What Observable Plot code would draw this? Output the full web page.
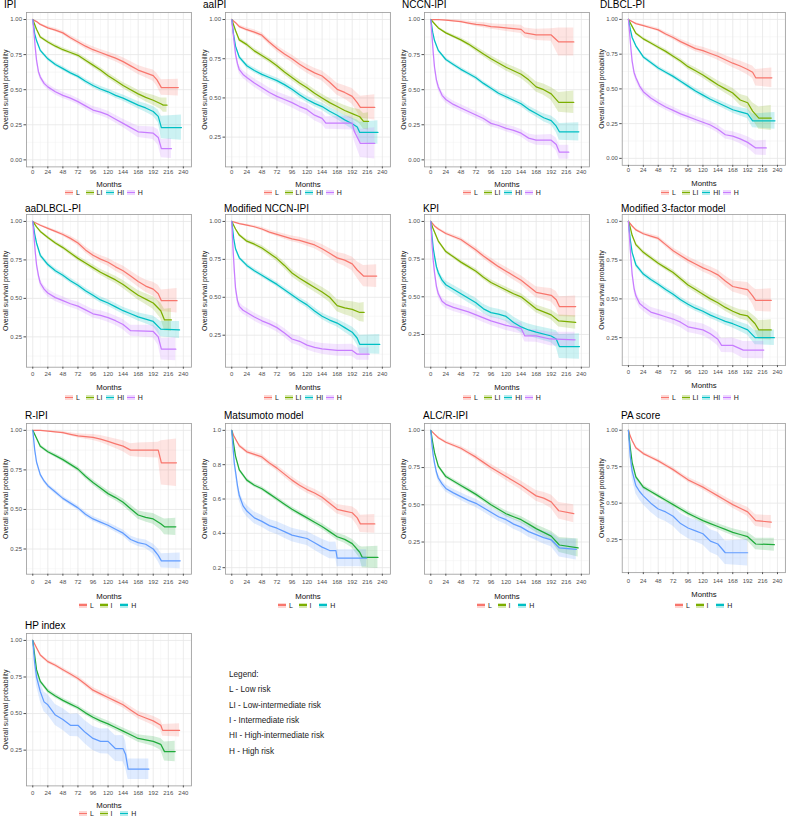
<!DOCTYPE html>
<html><head><meta charset="utf-8">
<script src="https://cdn.jsdelivr.net/npm/d3@7"></script>
<script src="https://cdn.jsdelivr.net/npm/@observablehq/plot@0.6"></script>
<style>
html,body{margin:0;padding:0;background:#fff;}
body{width:790px;height:819px;position:relative;overflow:hidden;font-family:"Liberation Sans",Arial,Helvetica,sans-serif;}
.pn{position:absolute;}
.ttl{position:absolute;font-size:10px;line-height:10px;color:#000;white-space:nowrap;}
.leg{position:absolute;height:10px;display:flex;align-items:center;font-size:7px;color:#222;}
.it{display:flex;align-items:center;width:20.6px;flex:none;}
.key{width:8px;height:5px;position:relative;margin-right:3px;}
.key i{position:absolute;left:0;right:0;top:1.9px;height:1.2px;}
.note{position:absolute;left:229px;top:667px;font-size:8.2px;line-height:15.35px;color:#222;}
g[aria-label="x-axis label"]{font-size:7.8px;fill:#111;}
g[aria-label="y-axis label"]{font-size:6.9px;fill:#111;}
</style>
</head><body>
<div class="note">Legend:<br>L - Low risk<br>LI - Low-intermediate risk<br>I - Intermediate risk<br>HI - High-intermediate risk<br>H - High risk</div>
<script>
// ---- data: [months, survival, CI half-width] ----
const IPI_L=[[0,1,0],[6,.985,.005],[12,.965,.008],[24,.94,.01],[36,.925,.012],[48,.905,.014],[60,.87,.016],[72,.84,.018],[84,.81,.02],[96,.785,.021],[108,.765,.022],[120,.745,.024],[132,.725,.026],[144,.70,.028],[156,.67,.03],[168,.64,.032],[180,.62,.035],[192,.60,.04],[198,.57,.045],[205,.515,.055],[232,.515,.06]];
const IPI_LI=[[0,1,0],[6,.93,.008],[12,.875,.01],[24,.84,.012],[36,.81,.013],[48,.785,.014],[60,.765,.015],[72,.745,.016],[84,.71,.017],[96,.675,.018],[108,.64,.019],[120,.60,.02],[132,.565,.021],[144,.53,.022],[156,.50,.024],[168,.47,.026],[180,.445,.03],[192,.425,.035],[204,.40,.04],[208,.39,.05],[214,.39,.05]];
const IPI_HI=[[0,1,0],[3,.9,.008],[6,.85,.01],[12,.78,.012],[24,.72,.013],[36,.68,.014],[48,.65,.015],[60,.62,.015],[72,.595,.016],[84,.56,.017],[96,.53,.018],[108,.505,.019],[120,.485,.02],[132,.46,.021],[144,.44,.022],[156,.415,.024],[168,.39,.026],[180,.37,.03],[192,.345,.035],[200,.31,.045],[205,.23,.08],[237,.23,.09]];
const IPI_H=[[0,1,0],[2,.9,.01],[4,.8,.015],[6,.71,.018],[9,.63,.02],[12,.59,.02],[18,.545,.021],[24,.52,.021],[36,.485,.022],[48,.46,.022],[60,.44,.022],[72,.415,.023],[84,.385,.024],[96,.355,.025],[108,.34,.026],[120,.32,.027],[132,.29,.028],[144,.26,.03],[156,.23,.035],[168,.20,.04],[192,.19,.045],[200,.16,.055],[205,.08,.065],[221,.08,.07]];

const AAIPI_L=[[0,1,0],[6,.98,.006],[12,.955,.01],[24,.935,.012],[36,.92,.014],[48,.90,.016],[60,.855,.018],[72,.815,.02],[84,.78,.022],[96,.75,.024],[108,.715,.026],[120,.685,.028],[132,.66,.03],[144,.64,.032],[156,.60,.035],[168,.555,.038],[180,.535,.042],[192,.51,.05],[200,.47,.06],[205,.44,.07],[228,.44,.08]];
const AAIPI_LI=[[0,1,0],[6,.93,.008],[12,.87,.012],[24,.84,.014],[36,.80,.015],[48,.77,.016],[60,.74,.017],[72,.705,.018],[84,.665,.019],[96,.63,.02],[108,.595,.021],[120,.565,.022],[132,.53,.023],[144,.50,.024],[156,.47,.026],[168,.445,.028],[180,.42,.032],[192,.40,.036],[204,.38,.045],[210,.35,.05],[218,.35,.055]];
const AAIPI_HI=[[0,1,0],[3,.9,.01],[6,.83,.012],[12,.76,.014],[24,.705,.015],[36,.675,.016],[48,.65,.016],[60,.63,.017],[72,.61,.017],[84,.585,.018],[96,.555,.019],[108,.52,.02],[120,.49,.021],[132,.465,.022],[144,.445,.023],[156,.415,.025],[168,.39,.027],[180,.36,.03],[192,.335,.035],[200,.315,.045],[204,.28,.065],[233,.28,.075]];
const AAIPI_H=[[0,1,0],[2,.92,.012],[4,.85,.016],[6,.78,.02],[9,.72,.022],[12,.68,.024],[18,.65,.025],[24,.63,.026],[36,.595,.027],[48,.565,.028],[60,.535,.029],[72,.51,.03],[84,.49,.031],[96,.47,.032],[108,.445,.033],[120,.425,.034],[132,.39,.036],[144,.37,.038],[150,.34,.04],[168,.34,.042],[192,.34,.045],[195,.29,.06],[205,.21,.09],[228,.21,.1]];

const NCCN_L=[[0,1,0],[12,1,.002],[24,.995,.005],[36,.99,.008],[48,.985,.01],[60,.975,.013],[72,.965,.015],[84,.96,.018],[96,.95,.02],[108,.945,.022],[120,.94,.025],[132,.935,.028],[144,.93,.03],[150,.905,.035],[168,.89,.04],[192,.89,.045],[204,.84,.1],[228,.84,.1]];
const NCCN_LI=[[0,1,0],[6,.97,.005],[12,.94,.008],[24,.905,.01],[36,.88,.012],[48,.855,.014],[60,.825,.016],[72,.79,.018],[84,.755,.02],[96,.72,.022],[108,.69,.024],[120,.66,.026],[132,.635,.028],[144,.61,.03],[156,.57,.033],[168,.52,.036],[180,.50,.04],[192,.47,.045],[204,.41,.07],[228,.41,.08]];
const NCCN_HI=[[0,1,0],[3,.91,.008],[6,.85,.01],[12,.78,.012],[24,.715,.013],[36,.68,.014],[48,.645,.015],[60,.615,.015],[72,.585,.016],[84,.545,.016],[96,.51,.017],[108,.475,.018],[120,.45,.019],[132,.425,.02],[144,.40,.021],[156,.36,.023],[168,.33,.025],[180,.30,.028],[192,.28,.032],[200,.24,.045],[205,.20,.06],[236,.20,.065]];
const NCCN_H=[[0,1,0],[2,.88,.015],[4,.76,.02],[6,.66,.022],[9,.57,.024],[12,.52,.025],[18,.46,.025],[24,.43,.025],[36,.395,.025],[48,.37,.025],[60,.345,.025],[72,.32,.025],[84,.295,.025],[96,.26,.025],[108,.245,.025],[120,.225,.025],[132,.21,.026],[144,.19,.027],[156,.155,.03],[168,.14,.035],[192,.14,.04],[200,.11,.045],[205,.055,.05],[220,.055,.05]];

const DPI_L=[[0,1,0],[12,.97,.006],[24,.955,.008],[36,.94,.01],[48,.925,.012],[60,.895,.014],[72,.87,.016],[84,.84,.018],[96,.815,.02],[108,.79,.022],[120,.775,.024],[132,.755,.026],[144,.735,.028],[156,.71,.03],[168,.685,.033],[180,.665,.036],[192,.64,.04],[200,.62,.045],[205,.58,.06],[231,.58,.07]];
const DPI_LI=[[0,1,0],[6,.95,.006],[12,.90,.01],[24,.86,.012],[36,.83,.013],[48,.80,.014],[60,.77,.015],[72,.735,.016],[84,.70,.018],[96,.66,.02],[108,.63,.022],[120,.60,.024],[132,.565,.026],[144,.53,.028],[156,.50,.031],[168,.47,.034],[180,.42,.04],[192,.40,.045],[200,.34,.06],[210,.29,.08],[230,.29,.09]];
const DPI_HI=[[0,1,0],[3,.93,.008],[6,.87,.01],[12,.81,.012],[24,.73,.013],[36,.69,.014],[48,.65,.015],[60,.62,.015],[72,.59,.016],[84,.555,.017],[96,.52,.018],[108,.485,.019],[120,.455,.02],[132,.425,.021],[144,.40,.022],[156,.375,.024],[168,.35,.026],[180,.335,.03],[192,.32,.035],[200,.27,.05],[236,.27,.06]];
const DPI_H=[[0,1,0],[2,.9,.012],[4,.79,.016],[6,.70,.02],[9,.62,.022],[12,.58,.023],[18,.52,.024],[24,.48,.024],[36,.435,.024],[48,.40,.024],[60,.37,.024],[72,.345,.024],[84,.32,.024],[96,.30,.024],[108,.28,.025],[120,.26,.026],[132,.24,.027],[144,.21,.028],[156,.17,.03],[168,.16,.032],[180,.14,.035],[192,.115,.04],[205,.075,.05],[222,.075,.055]];

const AADPI_L=[[0,1,0],[12,.975,.006],[24,.955,.008],[36,.935,.01],[48,.915,.012],[60,.89,.015],[72,.86,.018],[84,.815,.02],[96,.78,.022],[108,.755,.024],[120,.735,.026],[132,.705,.028],[144,.68,.03],[156,.645,.033],[168,.61,.036],[180,.58,.04],[192,.56,.045],[200,.53,.055],[205,.485,.07],[230,.485,.08]];
const AADPI_LI=[[0,1,0],[6,.965,.006],[12,.935,.008],[24,.895,.01],[36,.86,.012],[48,.83,.013],[60,.795,.014],[72,.76,.016],[84,.73,.017],[96,.70,.018],[108,.67,.02],[120,.645,.022],[132,.62,.024],[144,.59,.026],[156,.555,.028],[168,.52,.031],[180,.495,.035],[192,.47,.04],[204,.42,.05],[210,.36,.07],[221,.36,.075]];
const AADPI_HI=[[0,1,0],[3,.92,.01],[6,.86,.012],[12,.78,.014],[24,.72,.015],[36,.68,.016],[48,.65,.016],[60,.615,.017],[72,.585,.017],[84,.55,.018],[96,.52,.019],[108,.49,.02],[120,.47,.021],[132,.445,.022],[144,.42,.023],[156,.40,.025],[168,.38,.027],[180,.365,.03],[192,.35,.035],[204,.30,.05],[234,.295,.055]];
const AADPI_H=[[0,1,0],[2,.9,.012],[4,.8,.017],[6,.72,.02],[9,.65,.022],[12,.60,.023],[18,.56,.024],[24,.535,.024],[36,.505,.025],[48,.485,.025],[60,.465,.025],[72,.45,.026],[84,.425,.027],[96,.40,.028],[108,.39,.029],[120,.375,.03],[132,.355,.031],[144,.33,.033],[156,.29,.036],[192,.285,.04],[200,.25,.055],[205,.17,.07],[228,.17,.075]];

const MNCCN_L=[[0,1,0],[12,.985,.005],[24,.975,.007],[36,.965,.009],[48,.95,.011],[60,.93,.013],[72,.915,.015],[84,.90,.017],[96,.885,.019],[108,.875,.021],[120,.86,.023],[132,.845,.025],[144,.82,.028],[156,.79,.031],[168,.76,.035],[180,.745,.04],[192,.72,.045],[200,.68,.055],[210,.64,.07],[231,.64,.075]];
const MNCCN_LI=[[0,1,0],[6,.95,.007],[12,.91,.01],[24,.87,.012],[36,.85,.014],[48,.825,.016],[60,.79,.018],[72,.755,.02],[84,.71,.022],[96,.66,.024],[108,.625,.026],[120,.595,.028],[132,.565,.03],[144,.535,.032],[156,.50,.035],[168,.445,.04],[180,.43,.045],[192,.42,.05],[204,.40,.06],[211,.40,.065]];
const MNCCN_HI=[[0,1,0],[3,.89,.01],[6,.82,.012],[12,.76,.013],[24,.71,.014],[36,.675,.015],[48,.645,.015],[60,.615,.016],[72,.585,.016],[84,.55,.017],[96,.515,.018],[108,.48,.019],[120,.45,.02],[132,.41,.021],[144,.375,.022],[156,.35,.024],[168,.33,.026],[180,.30,.03],[192,.27,.034],[200,.23,.045],[204,.19,.06],[236,.19,.065]];
const MNCCN_H=[[0,1,0],[2,.82,.02],[4,.68,.024],[6,.56,.026],[9,.48,.027],[12,.44,.027],[18,.415,.027],[24,.40,.027],[36,.37,.027],[48,.345,.027],[60,.325,.027],[72,.30,.028],[84,.265,.029],[96,.225,.03],[108,.21,.031],[120,.185,.032],[132,.17,.034],[144,.16,.036],[168,.15,.038],[192,.15,.04],[200,.125,.04],[219,.125,.04]];

const KPI_L=[[0,1,0],[6,.97,.006],[12,.95,.008],[24,.92,.01],[36,.90,.012],[48,.88,.014],[60,.845,.016],[72,.81,.018],[84,.77,.02],[96,.735,.022],[108,.70,.024],[120,.67,.026],[132,.64,.028],[144,.61,.03],[156,.57,.033],[168,.53,.036],[180,.52,.04],[192,.51,.045],[200,.48,.055],[205,.435,.065],[231,.435,.07]];
const KPI_LI=[[0,1,0],[3,.96,.006],[6,.93,.008],[12,.87,.01],[24,.80,.012],[36,.765,.013],[48,.73,.014],[60,.70,.015],[72,.67,.016],[84,.63,.017],[96,.595,.018],[108,.57,.019],[120,.545,.02],[132,.52,.021],[144,.50,.022],[156,.46,.024],[168,.42,.026],[180,.40,.029],[192,.38,.033],[204,.34,.04],[231,.33,.045]];
const KPI_HI=[[0,1,0],[2,.9,.012],[4,.82,.016],[6,.77,.018],[9,.70,.02],[12,.66,.022],[18,.61,.024],[24,.58,.025],[36,.55,.027],[48,.52,.028],[60,.49,.029],[72,.46,.03],[84,.42,.031],[96,.395,.032],[108,.385,.033],[120,.37,.034],[132,.33,.036],[144,.30,.038],[156,.28,.04],[168,.265,.042],[192,.24,.045],[200,.22,.055],[205,.17,.08],[237,.17,.085]];
const KPI_H=[[0,1,0],[2,.85,.016],[4,.74,.02],[6,.66,.022],[9,.57,.024],[12,.52,.025],[18,.47,.026],[24,.45,.027],[36,.43,.027],[48,.415,.028],[60,.40,.028],[72,.38,.029],[84,.36,.03],[96,.34,.031],[108,.325,.032],[120,.31,.033],[132,.30,.035],[144,.29,.037],[150,.24,.04],[168,.24,.042],[190,.22,.045],[230,.215,.05]];

const M3F_L=[[0,1,0],[6,.97,.006],[12,.945,.008],[24,.92,.01],[36,.905,.012],[48,.89,.014],[60,.85,.016],[72,.81,.018],[84,.78,.02],[96,.75,.022],[108,.725,.024],[120,.70,.026],[132,.68,.028],[144,.655,.03],[156,.615,.033],[168,.58,.036],[180,.57,.04],[192,.56,.045],[200,.52,.055],[205,.49,.07],[230,.49,.075]];
const M3F_LI=[[0,1,0],[3,.96,.006],[6,.91,.01],[12,.85,.012],[24,.80,.013],[36,.765,.014],[48,.73,.015],[60,.70,.016],[72,.67,.017],[84,.63,.018],[96,.59,.019],[108,.56,.02],[120,.53,.021],[132,.50,.022],[144,.475,.023],[156,.445,.025],[168,.42,.027],[180,.40,.03],[192,.39,.034],[204,.34,.045],[210,.30,.06],[230,.30,.065]];
const M3F_HI=[[0,1,0],[3,.88,.01],[6,.80,.012],[12,.72,.014],[24,.66,.015],[36,.625,.016],[48,.595,.016],[60,.56,.017],[72,.53,.017],[84,.495,.018],[96,.465,.019],[108,.44,.02],[120,.42,.021],[132,.395,.022],[144,.375,.023],[156,.355,.025],[168,.34,.027],[180,.32,.03],[192,.30,.034],[204,.25,.045],[235,.25,.05]];
const M3F_H=[[0,1,0],[2,.88,.016],[4,.76,.02],[6,.66,.024],[9,.57,.026],[12,.52,.027],[18,.47,.028],[24,.45,.03],[36,.415,.031],[48,.40,.032],[60,.385,.033],[72,.37,.034],[84,.35,.035],[96,.32,.036],[108,.31,.037],[120,.30,.038],[132,.275,.04],[144,.24,.042],[150,.20,.045],[168,.20,.048],[185,.17,.055],[218,.17,.056]];

const RIPI_L=[[0,1,0],[12,1,.002],[24,.995,.004],[36,.99,.006],[48,.985,.008],[60,.975,.01],[72,.965,.013],[84,.96,.016],[96,.955,.019],[108,.945,.022],[120,.93,.026],[132,.915,.03],[144,.90,.035],[156,.875,.04],[168,.875,.045],[200,.875,.05],[205,.795,.14],[229,.795,.15]];
const RIPI_I=[[0,1,0],[6,.95,.006],[12,.90,.01],[24,.865,.011],[36,.84,.012],[48,.815,.013],[60,.785,.014],[72,.755,.015],[84,.71,.016],[96,.67,.017],[108,.635,.018],[120,.60,.019],[132,.575,.02],[144,.545,.022],[156,.505,.024],[168,.465,.027],[180,.45,.03],[192,.44,.034],[204,.41,.04],[210,.39,.05],[228,.39,.055]];
const RIPI_H=[[0,1,0],[3,.88,.008],[6,.80,.01],[12,.72,.012],[18,.68,.013],[24,.65,.013],[36,.61,.014],[48,.57,.014],[60,.54,.015],[72,.51,.015],[84,.47,.016],[96,.44,.016],[108,.42,.017],[120,.40,.018],[132,.375,.019],[144,.35,.02],[156,.31,.022],[168,.29,.024],[180,.28,.027],[192,.25,.031],[200,.21,.04],[205,.175,.045],[235,.175,.05]];

const MATS_L=[[0,1,0],[3,.97,.005],[6,.95,.007],[12,.91,.01],[24,.875,.012],[36,.86,.013],[48,.845,.015],[60,.81,.016],[72,.78,.017],[84,.745,.018],[96,.71,.019],[108,.68,.02],[120,.655,.021],[132,.635,.022],[144,.61,.024],[156,.575,.026],[168,.54,.028],[180,.53,.031],[192,.52,.035],[200,.49,.045],[205,.455,.05],[228,.455,.055]];
const MATS_I=[[0,1,0],[3,.92,.007],[6,.85,.009],[12,.77,.01],[24,.71,.011],[36,.68,.011],[48,.66,.012],[60,.63,.012],[72,.60,.013],[84,.57,.013],[96,.54,.014],[108,.515,.014],[120,.49,.015],[132,.465,.016],[144,.44,.017],[156,.41,.018],[168,.38,.02],[180,.365,.022],[192,.34,.026],[204,.29,.035],[208,.26,.06],[233,.26,.065]];
const MATS_H=[[0,1,0],[2,.9,.015],[4,.81,.02],[6,.76,.024],[9,.68,.027],[12,.62,.03],[18,.56,.032],[24,.53,.033],[36,.49,.034],[48,.47,.035],[60,.445,.036],[72,.43,.037],[84,.41,.038],[96,.39,.039],[108,.38,.04],[120,.37,.041],[132,.345,.043],[144,.32,.045],[156,.30,.048],[166,.30,.05],[168,.255,.05],[215,.255,.05]];

const ALC_L=[[0,1,0],[6,.975,.006],[12,.95,.008],[24,.92,.01],[36,.90,.012],[48,.88,.014],[60,.85,.016],[72,.82,.018],[84,.785,.02],[96,.75,.022],[108,.72,.024],[120,.69,.026],[132,.66,.028],[144,.63,.03],[156,.595,.033],[168,.56,.036],[180,.545,.04],[192,.52,.045],[204,.46,.055],[228,.44,.06]];
const ALC_I=[[0,1,0],[3,.92,.008],[6,.85,.01],[12,.76,.012],[24,.69,.013],[36,.66,.014],[48,.63,.015],[60,.60,.016],[72,.57,.016],[84,.535,.017],[96,.50,.018],[108,.47,.019],[120,.44,.02],[132,.42,.021],[144,.40,.022],[156,.37,.024],[168,.34,.026],[180,.315,.029],[192,.29,.033],[205,.23,.05],[235,.21,.06]];
const ALC_H=[[0,1,0],[2,.9,.012],[4,.83,.016],[6,.78,.018],[9,.72,.02],[12,.68,.022],[18,.64,.023],[24,.61,.024],[36,.58,.025],[48,.555,.026],[60,.53,.027],[72,.51,.028],[84,.48,.029],[96,.45,.03],[108,.42,.031],[120,.40,.032],[132,.37,.034],[144,.35,.036],[156,.32,.038],[168,.30,.04],[180,.28,.043],[192,.265,.046],[205,.21,.06],[232,.20,.07]];

const PA_L=[[0,1,0],[3,.96,.006],[6,.93,.008],[12,.88,.01],[24,.84,.011],[36,.815,.012],[48,.79,.013],[60,.76,.014],[72,.73,.015],[84,.695,.016],[96,.66,.017],[108,.635,.018],[120,.61,.019],[132,.58,.02],[144,.55,.021],[156,.52,.023],[168,.49,.025],[180,.465,.028],[192,.44,.032],[205,.38,.04],[230,.37,.045]];
const PA_I=[[0,1,0],[3,.88,.01],[6,.78,.012],[12,.68,.013],[24,.61,.014],[36,.58,.015],[48,.55,.015],[60,.52,.016],[72,.49,.016],[84,.46,.017],[96,.43,.017],[108,.405,.018],[120,.38,.019],[132,.36,.02],[144,.34,.021],[156,.32,.022],[168,.30,.024],[180,.285,.027],[192,.27,.03],[205,.22,.04],[235,.215,.045]];
const PA_H=[[0,1,0],[3,.82,.04],[6,.72,.05],[12,.62,.055],[18,.58,.058],[24,.55,.06],[36,.50,.062],[48,.46,.064],[60,.44,.066],[72,.41,.068],[84,.36,.07],[96,.33,.072],[108,.31,.074],[120,.29,.076],[132,.24,.078],[144,.22,.08],[156,.16,.08],[192,.16,.09]];

const HP_L=[[0,1,0],[3,.975,.006],[6,.95,.008],[12,.90,.01],[24,.855,.012],[36,.83,.013],[48,.80,.014],[60,.77,.015],[72,.74,.016],[84,.70,.017],[96,.66,.018],[108,.635,.019],[120,.61,.02],[132,.585,.021],[144,.56,.022],[156,.525,.024],[168,.49,.026],[180,.47,.028],[192,.45,.031],[204,.42,.036],[207,.385,.04],[234,.385,.045]];
const HP_I=[[0,1,0],[3,.9,.01],[6,.80,.012],[12,.72,.013],[24,.655,.014],[36,.62,.015],[48,.59,.015],[60,.565,.016],[72,.54,.016],[84,.505,.017],[96,.475,.018],[108,.45,.019],[120,.43,.02],[132,.405,.021],[144,.38,.022],[156,.355,.024],[168,.33,.026],[180,.32,.029],[192,.31,.033],[204,.29,.04],[210,.24,.065],[227,.24,.07]];
const HP_H=[[0,1,0],[3,.85,.05],[6,.75,.06],[12,.65,.065],[18,.58,.068],[24,.56,.07],[36,.49,.072],[48,.46,.074],[60,.42,.076],[72,.42,.078],[84,.37,.08],[96,.33,.082],[108,.31,.084],[120,.31,.086],[132,.26,.088],[144,.26,.09],[148,.22,.09],[152,.12,.07],[185,.12,.07]];

const titles=["IPI","aaIPI","NCCN-IPI","DLBCL-PI","aaDLBCL-PI","Modified NCCN-IPI","KPI","Modified 3-factor model","R-IPI","Matsumoto model","ALC/R-IPI","PA score","HP index"];
const seriesSets=[[IPI_L,IPI_LI,IPI_HI,IPI_H],[AAIPI_L,AAIPI_LI,AAIPI_HI,AAIPI_H],[NCCN_L,NCCN_LI,NCCN_HI,NCCN_H],[DPI_L,DPI_LI,DPI_HI,DPI_H],
 [AADPI_L,AADPI_LI,AADPI_HI,AADPI_H],[MNCCN_L,MNCCN_LI,MNCCN_HI,MNCCN_H],[KPI_L,KPI_LI,KPI_HI,KPI_H],[M3F_L,M3F_LI,M3F_HI,M3F_H],
 [RIPI_L,RIPI_I,RIPI_H],[MATS_L,MATS_I,MATS_H],[ALC_L,ALC_I,ALC_H],[PA_L,PA_I,PA_H],[HP_L,HP_I,HP_H]];
// lower limit of the plotted data range (y axis) for each panel
const yLow=[0,.105,0,0,.098,.085,.079,.114,.134,.202,.08,.07,.053];
const names4=["L","LI","HI","H"], names3=["L","I","H"];
const xTicks=[0,24,48,72,96,120,144,168,192,216,240];
const xMinor=[12,36,60,84,108,132,156,180,204,228,252];
const yTicksQ=[0,.25,.5,.75,1], yTicksF=[0,.2,.4,.6,.8,1];

// ---- layout / style ----
const col4=["#F8766D","#7CAE00","#00BFC4","#C77CFF"];
const col3line=["#F8766D","#1FAB3A","#619CFF"];
const col3key=["#F8766D","#7CAE00","#00BFC4"];
const frameLefts=[26,225,424,622], frameW=165;
const rows=[
 {top:12.3,h:154.4,tp:1,lab:20.5,leg:25.6,tb:-4},
 {top:214,h:152.7,tp:2.5,lab:23,leg:30.6,tb:-1.5},
 {top:423.3,h:150.7,tp:4,lab:24.5,leg:31,tb:-4},
 {top:633.3,h:152.4,tp:2.5,lab:22,leg:28,tb:-4}];

function hexA(h,a){const n=parseInt(h.slice(1),16);return `rgba(${n>>16},${(n>>8)&255},${n&255},${a})`;}

titles.forEach((title,k)=>{
  const row=Math.floor(k/4), col=k%4, R=rows[row], fl=frameLefts[col];
  const sets=seriesSets[k], four=sets.length===4;
  const names=four?names4:names3, lineCols=four?col4:col3line, keyCols=four?col4:col3key;
  const lo=yLow[k], yDom=[lo-0.05*(1-lo),1+0.05*(1-lo)];
  const matsu=title==="Matsumoto model";
  const base=matsu?yTicksF:yTicksQ, step=base[1]-base[0];
  const inD=v=>v>=yDom[0]-1e-9&&v<=yDom[1]+1e-9;
  const yMaj=base.filter(inD);
  const yMin=base.map(v=>v+step/2).concat([base[0]-step/2]).filter(inD);
  const data=sets.flatMap((s,i)=>s.map(([t,v,c])=>({t,v,lo:Math.max(0,v-c),hi:Math.min(1,v+c),g:names[i]})));
  const mt=2, mb=34;
  const svg=Plot.plot({
    width:28+frameW+5, height:mt+R.h+mb, marginLeft:28, marginRight:5, marginTop:mt, marginBottom:mb,
    x:{domain:[-10,253]}, y:{domain:yDom},
    color:{domain:names, range:lineCols},
    style:{fontFamily:"'Liberation Sans',Arial,sans-serif",fontSize:"6px",background:"transparent",overflow:"visible"},
    marks:[
      Plot.gridX(xMinor,{stroke:"#f1f1f1",strokeOpacity:1,strokeWidth:0.5}),
      Plot.gridY(yMin,{stroke:"#f1f1f1",strokeOpacity:1,strokeWidth:0.5}),
      Plot.gridX(xTicks,{stroke:"#e6e6e6",strokeOpacity:1,strokeWidth:0.8}),
      Plot.gridY(yMaj,{stroke:"#e6e6e6",strokeOpacity:1,strokeWidth:0.8}),
      Plot.areaY(data,{x:"t",y1:"lo",y2:"hi",z:"g",fill:"g",fillOpacity:0.2}),
      Plot.lineY(data,{x:"t",y:"v",z:"g",stroke:"g",strokeWidth:1.25}),
      Plot.frame({stroke:"#9a9a9a",strokeWidth:0.8}),
      Plot.axisX({ticks:xTicks,tickSize:2,tickPadding:R.tp,color:"#4d4d4d",label:"Months",labelAnchor:"center",labelOffset:R.lab,labelArrow:"none"}),
      Plot.axisY({ticks:yMaj,tickFormat:d3.format(matsu?".1f":".2f"),tickSize:2.5,tickPadding:2,color:"#4d4d4d",label:"Overall survival probability",labelAnchor:"center",labelOffset:23.5,labelArrow:"none"})
    ]
  });
  const box=document.createElement("div");
  box.className="pn"; box.style.left=(fl-28)+"px"; box.style.top=(R.top-mt)+"px";
  box.appendChild(svg); document.body.appendChild(box);

  const t=document.createElement("div");
  t.className="ttl"; t.textContent=title;
  t.style.left=(row===0?fl-22:fl-1)+"px"; t.style.top=(R.top+R.tb-8.5)+"px";
  document.body.appendChild(t);

  const lg=document.createElement("div");
  lg.className="leg"; lg.style.left=(fl+(four?39:53))+"px"; lg.style.top=(R.top+R.h+R.leg-5)+"px";
  names.forEach((n,i)=>{
    const it=document.createElement("div"); it.className="it";
    const key=document.createElement("span"); key.className="key"; key.style.background=hexA(keyCols[i],0.3);
    const ln=document.createElement("i"); ln.style.background=keyCols[i]; key.appendChild(ln);
    const tx=document.createElement("span"); tx.textContent=n;
    it.appendChild(key); it.appendChild(tx); lg.appendChild(it);
  });
  document.body.appendChild(lg);
});
</script>
</body></html>
